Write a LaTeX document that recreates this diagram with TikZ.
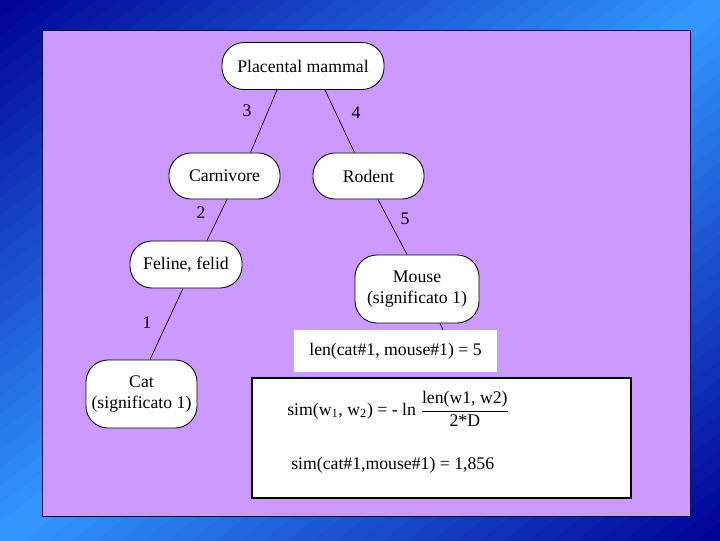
\documentclass[tikz,border=0pt]{standalone}
\usepackage{fontspec}
\setmainfont{Liberation Serif}
\usetikzlibrary{calc}

\definecolor{fonce}{RGB}{0,0,150}
\definecolor{clair}{RGB}{51,153,255}
\definecolor{lavande}{RGB}{204,153,255}
\definecolor{marine}{RGB}{10,10,70}

\tikzset{
  boite/.style={draw=black,fill=white,rounded corners=0.55cm,
    inner sep=0pt,align=center,line width=0.6pt},
  poids/.style={inner sep=0pt},
  arete/.style={line width=0.5pt}
}

\begin{document}
\begin{tikzpicture}[x=0.025cm,y=-0.025cm,
  font=\fontsize{12.6}{15}\selectfont]

\useasboundingbox (0,0) rectangle (720,540);

% Fond (bandes en degrade)
\begin{scope}
\clip (0,0) rectangle (720,540);
\foreach \i in {0,...,59}{
  \pgfmathsetmacro\ta{-432+14.4*\i}
  \pgfmathsetmacro\tb{\ta+15}
  \pgfmathsetmacro\k{min(100,abs(\ta+7.2)/4.32)}
  \fill[fonce!\k!clair]
  ({360+0.6*\ta+368},{270+0.8*\ta-276})
  --
  ({360+0.6*\tb+368},{270+0.8*\tb-276})
  --
  ({360+0.6*\tb-368},{270+0.8*\tb+276})
  --
  ({360+0.6*\ta-368},{270+0.8*\ta+276})
  -- cycle;
}
\end{scope}

% Cadre
\draw[marine,fill=lavande,line width=0.7pt]
(42,30)
rectangle
(690,516);

% Noeuds
\node[boite,minimum width=4.05cm,minimum height=1.175cm] (pm)
at (303,66)
{Placental mammal};

\node[boite,minimum width=2.775cm,minimum height=1.15cm] (carn)
at (224.5,176)
{Carnivore};

\node[boite,minimum width=2.775cm,minimum height=1.15cm] (rod)
at (368.5,176)
{Rodent};

\node[boite,minimum width=2.8cm,minimum height=1.175cm] (fel)
at (186,264.5)
{Feline, felid};

\node[boite,minimum width=3.1cm,minimum height=1.7cm] (mouse)
at (417,289)
{Mouse\\(significato 1)};

\node[boite,minimum width=2.775cm,minimum height=1.7cm] (cat)
at (141.5,394)
{Cat\\(significato 1)};

\coordinate (cache)
at (450,345);

% Aretes
\draw[arete]
($(pm.south)+(-26,0)$)
--
($(carn.north)+(26,0)$);

\draw[arete]
($(pm.south)+(22,0)$)
--
($(rod.north)+(-14,0)$);

\draw[arete]
($(carn.south)+(2.5,0)$)
--
($(fel.north)+(21,0)$);

\draw[arete]
($(rod.south)+(9.5,0)$)
--
($(mouse.north)+(-10,0)$);

\draw[arete]
($(fel.south)+(-3,0)$)
--
($(cat.north)+(8.5,0)$);

\draw[arete]
($(mouse.south)+(23,0)$)
--
(cache);

% Poids
\node[poids] (l3)
at (247,111)
{3};

\node[poids] (l4)
at (356,113)
{4};

\node[poids] (l2)
at (201,213)
{2};

\node[poids] (l5)
at (405,219)
{5};

\node[poids] (l1)
at (147,323)
{1};

% Longueur
\node[fill=white,minimum width=5.075cm,minimum height=1.05cm,inner sep=0pt] (len)
at (395.5,351)
{len(cat\#1, mouse\#1) = 5};

% Formule
\draw[black,fill=white,line width=0.9pt]
(252,378)
rectangle
(631,498);

\node[anchor=west,inner sep=0pt] (sim)
at (287,409)
{sim(w\textsubscript{1}, w\textsubscript{2}) = - ln
$\displaystyle\frac{\mbox{len(w1, w2)}}{\mbox{2*D}}$};

\node[anchor=west,inner sep=0pt] (res)
at (291,465)
{sim(cat\#1,mouse\#1) = 1,856};

\end{tikzpicture}
\end{document}
